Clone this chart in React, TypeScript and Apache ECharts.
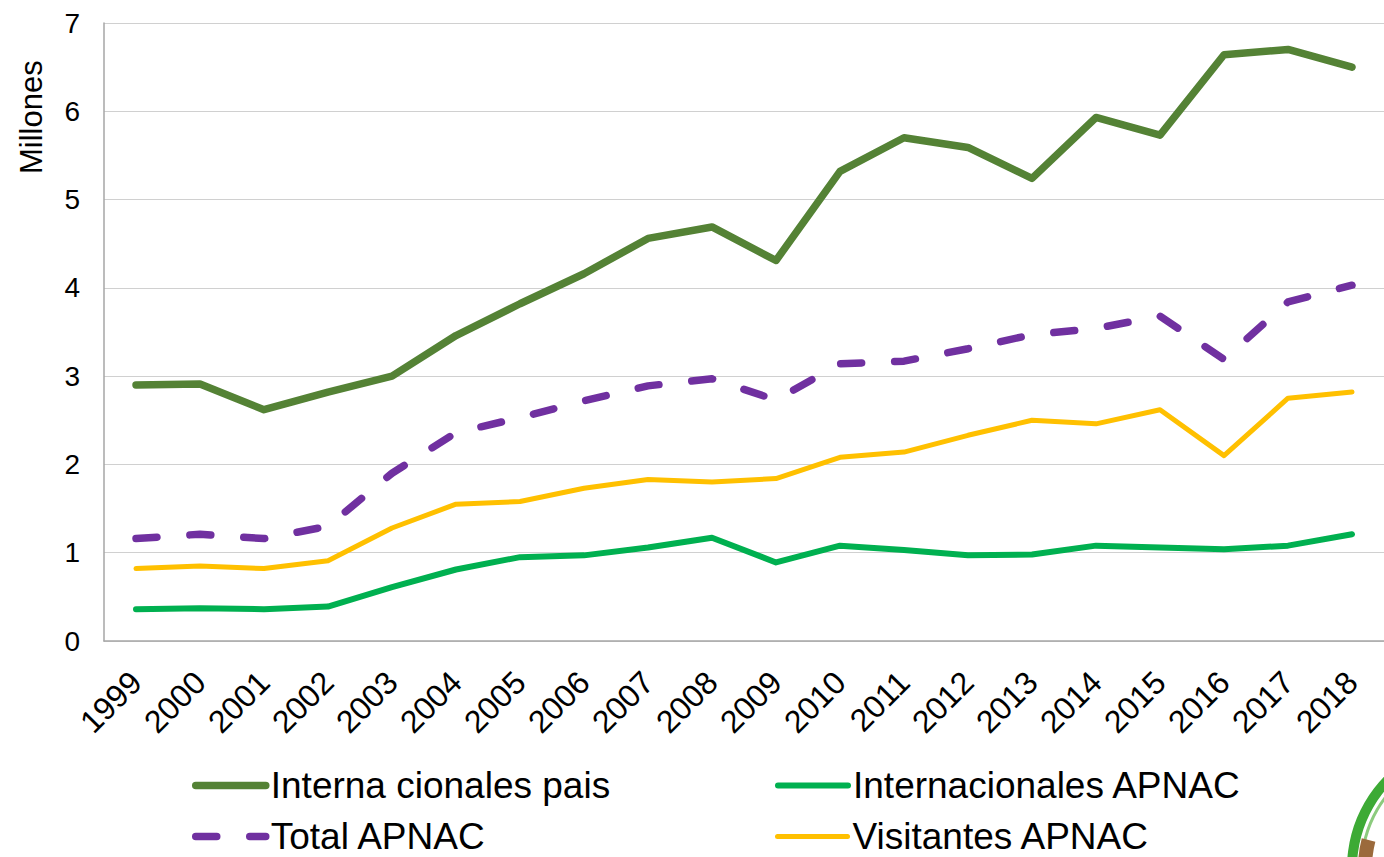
import React, { useEffect, useRef } from "react";
import * as echarts from "echarts";

const years = ["1999","2000","2001","2002","2003","2004","2005","2006","2007","2008","2009","2010","2011","2012","2013","2014","2015","2016","2017","2018"];
const internaPais = [2.90, 2.91, 2.62, 2.82, 3.00, 3.46, 3.82, 4.16, 4.56, 4.69, 4.31, 5.32, 5.70, 5.59, 5.24, 5.93, 5.73, 6.64, 6.70, 6.50];
const internacionalesApnac = [0.36, 0.37, 0.36, 0.39, 0.61, 0.81, 0.95, 0.97, 1.06, 1.17, 0.89, 1.08, 1.03, 0.97, 0.98, 1.08, 1.06, 1.04, 1.08, 1.21];
const totalApnac = [1.16, 1.21, 1.16, 1.30, 1.90, 2.36, 2.53, 2.72, 2.89, 2.97, 2.73, 3.14, 3.17, 3.31, 3.47, 3.54, 3.68, 3.19, 3.84, 4.03];
const visitantesApnac = [0.82, 0.85, 0.82, 0.91, 1.28, 1.55, 1.58, 1.73, 1.83, 1.80, 1.84, 2.08, 2.14, 2.33, 2.50, 2.46, 2.62, 2.10, 2.75, 2.82];

const FONT = "Liberation Sans, Arial, sans-serif";

export default function App() {
  const ref = useRef<HTMLDivElement>(null);
  useEffect(() => {
    document.body.style.margin = "0";
    const chart = echarts.init(ref.current!, undefined, { renderer: "svg" });
    const legendText = { fontSize: 37, color: "#000", fontFamily: FONT };
    const mkLegend = (name: string, left: number, top: number, lineStyle: any) => ({
      data: [name], left, top, itemWidth: 70, itemHeight: 8, itemGap: 0,
      textStyle: legendText, padding: 0, selectedMode: false,
      lineStyle, itemStyle: { opacity: 0, color: "transparent" },
    });
    chart.setOption({
      animation: false,
      backgroundColor: "#fff",
      grid: { left: 104, top: 23, width: 1284, height: 618, containLabel: false },
      xAxis: {
        type: "category", data: years, boundaryGap: true,
        axisLine: { lineStyle: { color: "#A6A6A6", width: 1.5 } },
        axisTick: { show: false },
        axisLabel: { rotate: 45, fontSize: 32, color: "#000", fontFamily: FONT, margin: 36, interval: 0 },
      },
      yAxis: {
        type: "value", min: 0, max: 7, interval: 1,
        axisLine: { show: true, lineStyle: { color: "#A6A6A6", width: 1.5 } },
        axisTick: { show: false },
        splitLine: { lineStyle: { color: "#D0D0D0", width: 1.2 } },
        axisLabel: { fontSize: 28, color: "#000", fontFamily: FONT, margin: 24 },
      },
      legend: [
        mkLegend("Interna cionales pais", 192, 767, { width: 7.5, cap: "round" }),
        mkLegend("Internacionales APNAC", 775, 767, { width: 6, cap: "round" }),
        mkLegend("Total APNAC", 192, 818, { width: 7.5, type: [21, 33], cap: "round" }),
        mkLegend("Visitantes APNAC", 775, 818, { width: 5, cap: "round" }),
      ],
      graphic: [
        { type: "text", x: 16, y: 174, rotation: Math.PI / 2, style: { text: "Millones", fontSize: 31, fontFamily: FONT, fill: "#000", textAlign: "left", textVerticalAlign: "top" } },
        { type: "ring", shape: { cx: 1478, cy: 868, r: 131, r0: 121 }, style: { fill: "#3DAA35" }, silent: true },
        { type: "ring", shape: { cx: 1478, cy: 868, r: 118, r0: 115 }, style: { fill: "#8CCB7E" }, silent: true },
        { type: "sector", shape: { cx: 1478, cy: 868, r: 120, r0: 106, startAngle: Math.PI * 0.98, endAngle: Math.PI * 1.08 }, style: { fill: "#9B6A3C" }, silent: true },
      ],
      series: [
        { name: "Interna cionales pais", type: "line", data: internaPais, symbol: "none", lineStyle: { color: "#548235", width: 7.5, cap: "round", join: "round" }, itemStyle: { color: "#548235" } },
        { name: "Internacionales APNAC", type: "line", data: internacionalesApnac, symbol: "none", lineStyle: { color: "#00B050", width: 6, cap: "round", join: "round" }, itemStyle: { color: "#00B050" } },
        { name: "Total APNAC", type: "line", data: totalApnac, symbol: "none", lineStyle: { color: "#7030A0", width: 7.5, type: [21, 33], cap: "round", join: "round" }, itemStyle: { color: "#7030A0" } },
        { name: "Visitantes APNAC", type: "line", data: visitantesApnac, symbol: "none", lineStyle: { color: "#FFC000", width: 5, cap: "round", join: "round" }, itemStyle: { color: "#FFC000" } },
      ],
    });
    return () => chart.dispose();
  }, []);
  return <div ref={ref} style={{ width: 1384, height: 857 }} />;
}
